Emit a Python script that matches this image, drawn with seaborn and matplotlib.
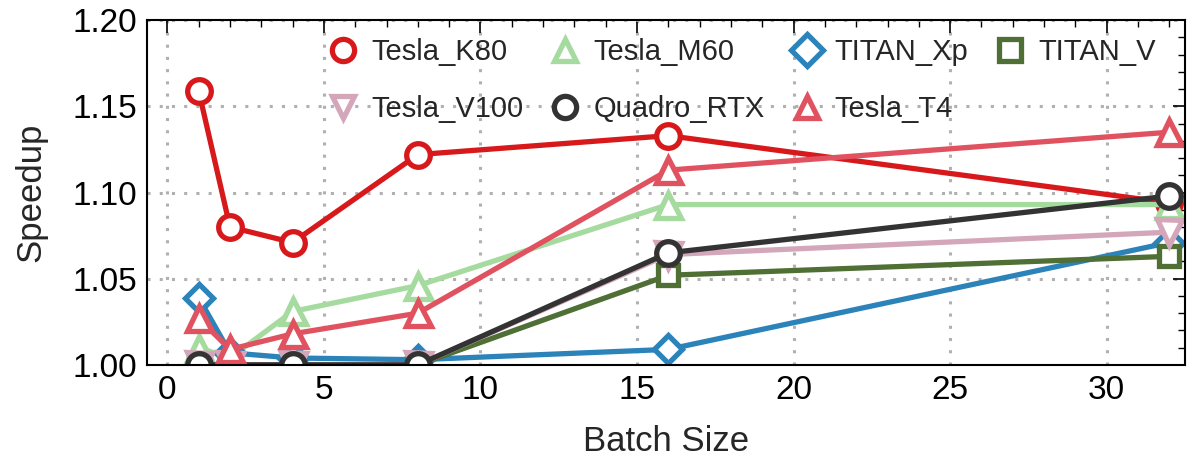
import matplotlib
matplotlib.use("Agg")
import matplotlib.pyplot as plt
from matplotlib.ticker import MultipleLocator, FormatStrFormatter
import seaborn as sns
import pandas as pd

batch_sizes = [1, 2, 4, 8, 16, 32]

tesla_k80 = [1.159, 1.080, 1.071, 1.122, 1.133, 1.094]
tesla_m60 = [1.010, 1.004, 1.031, 1.046, 1.093, 1.093]
titan_xp = [1.039, 1.007, 1.004, 1.003, 1.009, 1.071]
titan_v = [1.000, 1.000, 1.000, 1.000, 1.052, 1.063]
tesla_v100 = [1.000, 1.000, 1.000, 1.000, 1.064, 1.077]
quadro_rtx = [1.000, 1.000, 1.000, 1.000, 1.065, 1.098]
tesla_t4 = [1.027, 1.009, 1.018, 1.030, 1.113, 1.135]

gpu_names = ["Tesla_K80", "Tesla_M60", "TITAN_Xp", "TITAN_V",
             "Tesla_V100", "Quadro_RTX", "Tesla_T4"]
gpu_values = [tesla_k80, tesla_m60, titan_xp, titan_v,
              tesla_v100, quadro_rtx, tesla_t4]
gpu_colors = ["#d7191c", "#a6dba0", "#2b83ba", "#4f6f35",
              "#d4a6b9", "#333333", "#e0525f"]
gpu_markers = ["o", "^", "D", "s", "v", "o", "^"]
marker_sizes = [17, 18, 14, 15, 18, 17, 18]

rows = []
for name, vals in zip(gpu_names, gpu_values):
    for b, v in zip(batch_sizes, vals):
        rows.append({"Batch Size": b, "Speedup": v, "GPU": name})
df = pd.DataFrame(rows)

sns.set_theme(style="white")
plt.rcParams["font.family"] = ["Liberation Sans", "DejaVu Sans"]

fig, ax = plt.subplots(figsize=(11.88, 4.69), dpi=100)
fig.subplots_adjust(left=0.124, right=0.9975, top=0.957, bottom=0.222)

for name, color, mk, ms in zip(gpu_names, gpu_colors, gpu_markers, marker_sizes):
    sub = df[df["GPU"] == name]
    sns.lineplot(data=sub, x="Batch Size", y="Speedup", ax=ax, color=color,
                 marker=mk, markersize=ms, markerfacecolor="white",
                 markeredgecolor=color, markeredgewidth=3.8, linewidth=3.8,
                 label=name, clip_on=True)

ax.set_xlim(-0.64, 32.5)
ax.set_ylim(1.0, 1.2)
ax.xaxis.set_major_locator(MultipleLocator(5))
ax.xaxis.set_minor_locator(MultipleLocator(1))
ax.yaxis.set_major_locator(MultipleLocator(0.05))
ax.yaxis.set_minor_locator(MultipleLocator(0.01))
ax.yaxis.set_major_formatter(FormatStrFormatter("%.2f"))

ax.tick_params(which="both", direction="in", top=True, right=True,
               labelsize=24, colors="black", pad=7)
ax.tick_params(which="major", length=9, width=1.2)
ax.tick_params(which="minor", length=5, width=1.0)
for sp in ax.spines.values():
    sp.set_color("black")
    sp.set_linewidth(1.5)

ax.grid(True, which="major", linestyle=(0, (1, 3)), color="#b0b0b0", linewidth=2.2)
ax.set_axisbelow(True)

ax.set_xlabel("Batch Size", fontsize=25, labelpad=14)
ax.set_ylabel("Speedup", fontsize=25, labelpad=18)

# legend filled row by row: reorder handles for column-major layout
handles, labels = ax.get_legend_handles_labels()
order = [0, 4, 1, 5, 2, 6, 3]
leg = ax.legend([handles[i] for i in order], [labels[i] for i in order],
                ncol=4, loc="upper right", bbox_to_anchor=(0.997, 1.025),
                frameon=False, fontsize=21, handlelength=1.0,
                handletextpad=0.45, columnspacing=0.95, labelspacing=1.0)
for line in leg.get_lines():
    line.set_linestyle("None")
    line.set_markersize(16)

fig.savefig("out.png", dpi=100)
